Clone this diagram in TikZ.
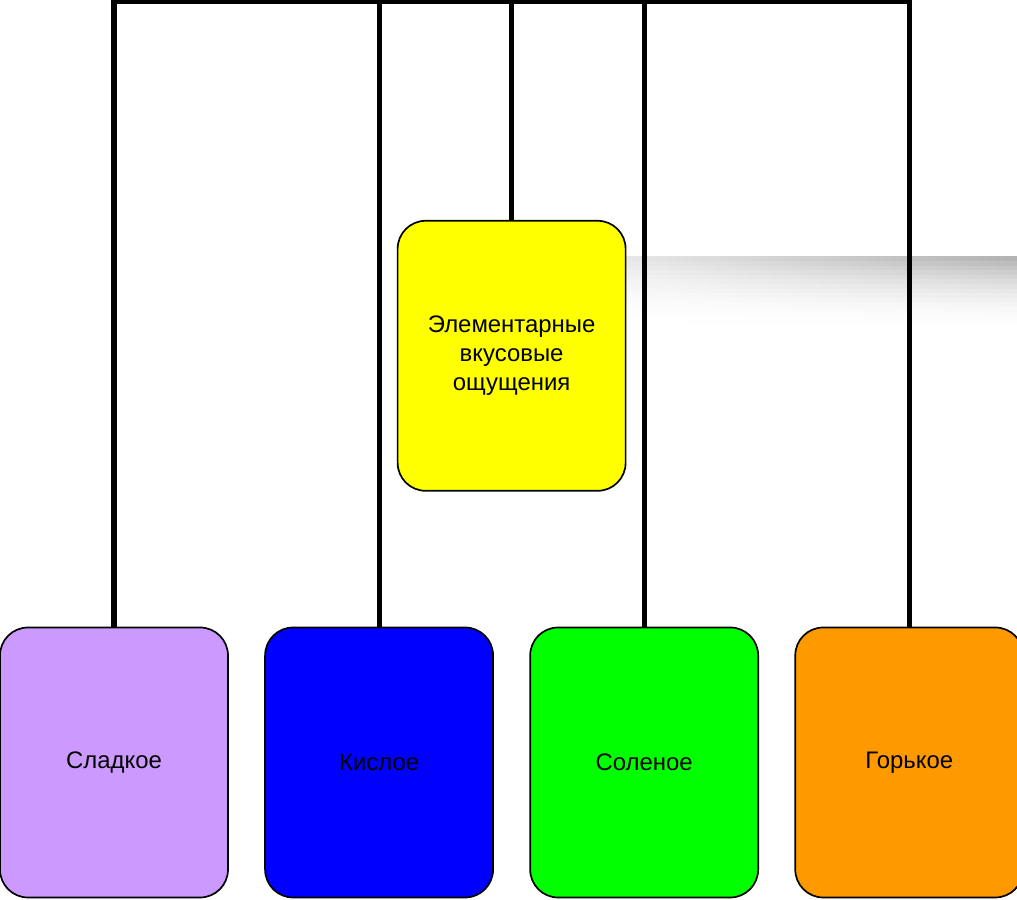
\documentclass[tikz,border=0pt]{standalone}
\usepackage{fontspec}
\setmainfont{Liberation Sans}
\usepackage{xcolor}
\usepackage{tikz}
\usetikzlibrary{positioning, calc}
\definecolor{sweetcol}{RGB}{204,153,255}
\definecolor{sourcol}{RGB}{0,0,255}
\definecolor{saltycol}{RGB}{0,255,0}
\definecolor{bittercol}{RGB}{255,153,0}
\definecolor{basiccol}{RGB}{255,255,0}
\tikzstyle{taste} = [rectangle, rounded corners=0.7cm, minimum width=5.7cm, minimum height=6.75cm, align=center, draw=black, line width=1.2pt, font=\fontsize{17}{20.6}\selectfont]
\tikzstyle{wire} = [line width=3.6pt, black]

\begin{document}
\begin{tikzpicture}[node distance=0.885cm]
	\useasboundingbox (-2.85,-3.4375) rectangle (22.575,19.0625);
	% background band
	\foreach \i in {0,...,15} {
		\pgfmathsetmacro\k{30*(1-\i/16)^2}
		\fill[left color=white, right color=black!\k] (8.4,12.64-\i*0.115) rectangle (22.575,10.7);
	}
	
	% nodes
	\node (sweet) at (0,0) [taste, fill=sweetcol] {Сладкое};
	
	\node (sour) [taste, fill=sourcol, right=of sweet] {Кислое};
	
	\node (salty) [taste, fill=saltycol, right=of sour] {Соленое};
	
	\node (bitter) [taste, fill=bittercol, right=of salty] {Горькое};
	
	\node (basic) [taste, fill=basiccol, above=3.375cm of $(sour.north)!0.5!(salty.north)$] {
		Элементарные\\
		вкусовые\\
		ощущения
	};
	
	\coordinate (bus) at ([yshift=15.625cm] sweet.north);
	
	% lines
	\draw [wire] (sweet.north) -- (sweet.north |- bus) -- (bitter.north |- bus) -- (bitter.north);
	\draw [wire] (sour.north) -- (sour.north |- bus);
	\draw [wire] (basic.north) -- (basic.north |- bus);
	\draw [wire] (salty.north) -- (salty.north |- bus);
\end{tikzpicture}
\end{document}
